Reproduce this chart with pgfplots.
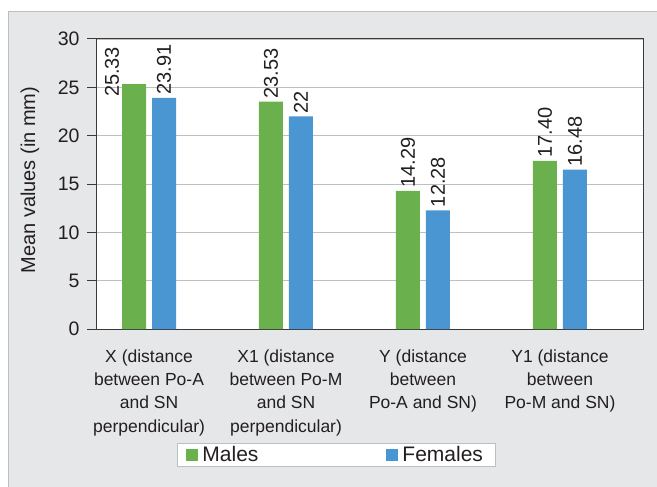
\documentclass[border=0pt]{standalone}
\usepackage{pgfplots}
\pgfplotsset{compat=1.18}
\usepackage{pgfplotstable}
\usepackage{fontspec}
\setmainfont{Liberation Sans}
\definecolor{mgreen}{HTML}{6AB04C}
\definecolor{mblue}{HTML}{4A96D2}
\definecolor{panel}{HTML}{E6E7E8}
\definecolor{panelborder}{HTML}{BCBEC0}
\definecolor{gridc}{HTML}{BFBFBF}
\definecolor{axisc}{HTML}{3A3A3A}
\definecolor{textc}{HTML}{231F20}

\pgfplotstableread{
x y lab dx dy
0 25.33 25.33 -22 -16
1 23.53 23.53 0 0
2 14.29 14.29 0 0
3 17.40 17.40 0 0
}\males
\pgfplotstableread{
x y lab
0 23.91 23.91
1 22.00 22
2 12.28 12.28
3 16.48 16.48
}\females

\begin{document}
\begin{tikzpicture}
\useasboundingbox (-97bp,-158bp) rectangle (560bp,329bp);
\fill[panel] (-88bp,-160bp) rectangle (562bp,317bp);
\draw[panelborder, line width=1bp] (-88bp,-160bp) -- (-88bp,317bp) -- (562bp,317bp);
\begin{axis}[
  scale only axis,
  width=546bp, height=290bp,
  xmin=-0.3796, xmax=3.606,
  ymin=0, ymax=30,
  ybar=6bp, bar width=24bp,
  axis background/.style={fill=white},
  axis line style={draw=axisc, line width=1bp},
  ymajorgrids, grid style={draw=gridc, line width=0.9bp},
  ytick={0,5,...,30},
  ytick pos=left,
  tick align=outside,
  major tick length=10bp,
  ytick style={draw=axisc, line width=1bp},
  xtick={0,1,2,3},
  xtick style={draw=none},
  xticklabels={{X (distance\\between Po-A\\and SN\\perpendicular)},
               {X1 (distance\\between Po-M\\and SN\\perpendicular)},
               {Y (distance\\between\\Po-A and SN)},
               {Y1 (distance\\between\\Po-M and SN)}},
  /pgf/number format/assume math mode=true,
  yticklabel style={font=\fontsize{19.5bp}{23bp}\selectfont, text=textc, xshift=-4bp},
  xticklabel style={font=\fontsize{17.5bp}{23.3bp}\selectfont, text=textc, align=center, yshift=-7bp},
  ylabel={Mean values (in mm)},
  every axis y label/.style={at={(rel axis cs:0,0.5)}, xshift=-67bp, yshift=4bp, rotate=90, anchor=center, font=\fontsize{20bp}{24bp}\selectfont, text=textc},
  legend columns=2,
  legend style={at={(0.4377,-0.4345)}, anchor=center, draw=gridc, fill=white,
    font=\fontsize{21bp}{24bp}\selectfont, text=textc,
    inner xsep=9.5bp, inner ysep=0.5bp,
    nodes={inner sep=2.5bp},
    /tikz/every even column/.append style={column sep=125.5bp}},
  legend image code/.code={\fill[#1] (0bp,-5.75bp) rectangle (11.5bp,5.75bp); \path (13.5bp,0bp);},
  nodes near coords={\pgfplotspointmeta},
  point meta=explicit symbolic,
]
\addplot[fill=mgreen, draw=none,
  visualization depends on={\thisrow{dx}\as\dx},
  visualization depends on={\thisrow{dy}\as\dy},
  every node near coord/.append style={font=\fontsize{20bp}{24bp}\selectfont, text=textc, inner sep=3bp, xshift=\dx bp, yshift=\dy bp, rotate=90, anchor=west}]
  table[x=x, y=y, meta=lab]{\males};
\addplot[fill=mblue, draw=none,
  every node near coord/.append style={font=\fontsize{20bp}{24bp}\selectfont, text=textc, inner sep=3bp, rotate=90, anchor=west}]
  table[x=x, y=y, meta=lab]{\females};
\legend{Males,Females}
\end{axis}
\end{tikzpicture}
\end{document}
